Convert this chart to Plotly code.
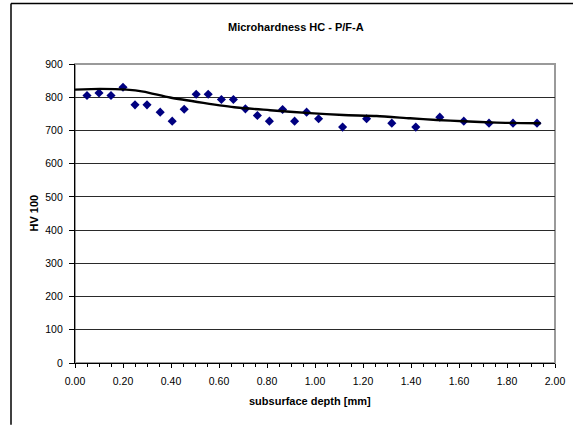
import plotly.graph_objects as go

depth_mm = [0.05, 0.10, 0.15, 0.20, 0.25, 0.30, 0.355, 0.405, 0.455, 0.505,
            0.555, 0.61, 0.66, 0.71, 0.76, 0.81, 0.865, 0.915, 0.965, 1.015,
            1.115, 1.215, 1.32, 1.42, 1.52, 1.62, 1.725, 1.825, 1.925]
hv100 = [805, 813, 805, 830, 777, 777, 755, 728, 764, 809,
         809, 793, 793, 765, 745, 728, 763, 728, 755, 735,
         710, 735, 722, 710, 740, 728, 722, 722, 722]

# Trend line
trend_x = [0.0, 0.104, 0.215, 0.285, 0.396, 0.535, 0.674, 0.8125, 0.979,
           1.118, 1.257, 1.396, 1.507, 1.618, 1.757, 1.94]
trend_y = [823, 825, 823, 817, 799, 783, 769, 761, 752,
           746.5, 743.5, 736.5, 731.5, 727.5, 723.5, 721.6]

x_ticks = [0.0, 0.2, 0.4, 0.6, 0.8, 1.0, 1.2, 1.4, 1.6, 1.8, 2.0]
x_labels = ["0.00", "0.20", "0.40", "0.60", "0.80", "1.00", "1.20", "1.40", "1.60", "1.80", "2.00"]
y_ticks = [0, 100, 200, 300, 400, 500, 600, 700, 800, 900]

title_text = "Microhardness HC - P/F-A"
x_title = "subsurface depth [mm]"
y_title = "HV 100"

FONT = "Liberation Sans, Arial, sans-serif"

fig = go.Figure()
fig.add_trace(go.Scatter(
    x=depth_mm, y=hv100, mode="markers",
    marker=dict(symbol="diamond", size=7, color="#000080"),
    showlegend=False, cliponaxis=False))
fig.add_trace(go.Scatter(
    x=trend_x, y=trend_y, mode="lines",
    line=dict(color="black", width=2.4, shape="spline", smoothing=0.6),
    showlegend=False))

W, H = 573, 425
# desired plot area in page pixels
PX0, PX1, PY0, PY1 = 75, 555, 64, 363.3
L = PX0
T = PY0
pw = PX1 - PX0
ph = PY1 - PY0
R = W - L - pw
B = H - T - ph

def px_x(px):
    return (px - PX0) / pw

def px_y(py):
    return (PY1 - py) / ph

frame_line = dict(color="black", width=1.5)

fig.update_layout(
    template="none",
    width=W, height=H, autosize=False,
    margin=dict(l=L, r=R, t=T, b=B),
    paper_bgcolor="white", plot_bgcolor="white",
    font=dict(family=FONT, size=10.5, color="black"),
    xaxis=dict(range=[0, 2], tickvals=x_ticks, ticktext=x_labels,
               automargin=False,
               showgrid=False, zeroline=False,
               showline=True, linecolor="black", linewidth=1.3,
               ticks="outside", ticklen=4, tickcolor="black", tickwidth=1,
               ticklabelstandoff=4,
               minor=dict(dtick=0.05, ticks="outside", ticklen=2.5,
                          tickcolor="black", tickwidth=1, showgrid=False),
               tickfont=dict(family=FONT, size=10.5, color="black")),
    yaxis=dict(range=[0, 900], tickvals=y_ticks,
               automargin=False,
               showgrid=True, gridcolor="#2a2a2a", gridwidth=1,
               zeroline=False,
               showline=True, linecolor="black", linewidth=1.3,
               ticks="outside", ticklen=5, tickcolor="black", tickwidth=1,
               ticklabelstandoff=4,
               tickfont=dict(family=FONT, size=10.5, color="black")),
    shapes=[
        dict(type="rect", xref="paper", yref="paper", x0=0, x1=1, y0=0, y1=1,
             line=dict(color="#9a9a9a", width=2), layer="below"),
        # outer chart frame: top and left edges (right/bottom fall outside the picture)
        dict(type="line", xref="paper", yref="paper",
             x0=px_x(11), x1=px_x(573), y0=px_y(3.5), y1=px_y(3.5),
             line=frame_line, layer="above"),
        dict(type="line", xref="paper", yref="paper",
             x0=px_x(11), x1=px_x(11), y0=px_y(3.5), y1=px_y(425),
             line=frame_line, layer="above"),
    ],
    annotations=[
        dict(text="<b>" + title_text + "</b>", xref="paper", yref="paper",
             x=px_x(296), y=px_y(27), showarrow=False,
             xanchor="center", yanchor="middle",
             font=dict(family=FONT, size=11, color="black")),
        dict(text="<b>" + x_title + "</b>", xref="paper", yref="paper",
             x=px_x(310), y=px_y(401), showarrow=False,
             xanchor="center", yanchor="middle",
             font=dict(family=FONT, size=11, color="black")),
        dict(text="<b>" + y_title + "</b>", xref="paper", yref="paper",
             x=px_x(33), y=0.5, showarrow=False, textangle=-90,
             xanchor="center", yanchor="middle",
             font=dict(family=FONT, size=11, color="black")),
    ],
)

fig.write_html("out.html",
               config={"displayModeBar": False},
               post_script="document.body.style.margin='0';document.body.style.overflow='hidden';")
